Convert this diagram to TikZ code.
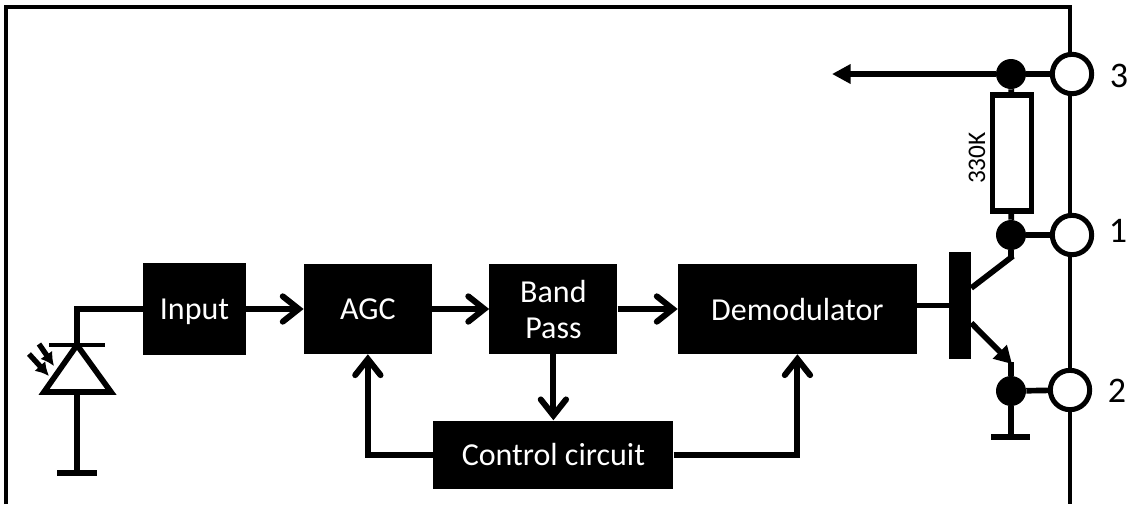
\documentclass[tikz,border=0pt]{standalone}
\usepackage{fontspec}
\setmainfont{Carlito}
\usetikzlibrary{arrows.meta,positioning,calc}
\tikzset{
  blockbox/.style={fill=black, text=white, inner sep=0pt, align=center, font=\fontsize{24}{27}\selectfont},
  flow/.style={-{Straight Barb[length=12pt,width=19pt,line cap=round]}, line width=4.5pt},
  wire/.style={line width=3pt},
  thickwire/.style={line width=4.25pt},
  pinlabel/.style={font=\fontsize{27}{30}\selectfont},
  terminal/.style={circle, draw, line width=3.75pt, fill=white, minimum size=29.5pt, inner sep=0pt},
  joint/.style={circle, fill=black, minimum size=22.5pt, inner sep=0pt},
  groundbar/.style={line width=4.5pt},
  lighttip/.style={-{Latex[length=10pt,width=11pt]}, line width=4pt}
}
\begin{document}
\begin{tikzpicture}[x=0.75pt, y=-0.75pt]
  \useasboundingbox (0,0) rectangle (1130,504);

  % outer frame, open at the bottom
  \coordinate (framebl) at (6,504);
  \coordinate (frametl) at (6,7);
  \coordinate (frametr) at (1070,7);
  \coordinate (framebr) at (1070,504);
  \draw[wire, line join=miter] (framebl) -- (frametl) -- (frametr) -- (framebr);

  % signal chain
  \node[blockbox, text depth=0pt, minimum width=77.25pt, minimum height=69pt] (input) at (194.5,309) {Input};
  \node[blockbox, minimum width=96pt, minimum height=67.5pt, right=43pt of input] (agc) {AGC};
  \node[blockbox, minimum width=96pt, minimum height=67.5pt, right=42.75pt of agc] (bandpass) {Band\\Pass};
  \node[blockbox, minimum width=179.25pt, minimum height=67.5pt, right=45pt of bandpass] (demod) {Demodulator};
  \node[blockbox, minimum width=180pt, minimum height=51pt, below=49.5pt of bandpass] (control) {Control circuit};

  \draw[flow] (input) -- (agc);
  \draw[flow] (agc) -- (bandpass);
  \draw[flow] (bandpass) -- (demod);
  \draw[flow] (bandpass) -- (control);
  \draw[flow] (control.west) -| (agc.south);
  \draw[flow] (control.east) -| (demod.south);

  % photodiode
  \coordinate (diodetop) at (77,345);
  \coordinate (diodeleft) at (44,392);
  \coordinate (dioderight) at (111,392);
  \coordinate (diodebase) at (77,392);
  \coordinate (diodegnd) at (77,473);
  \coordinate (cathodel) at (49,345);
  \coordinate (cathoder) at (105,345);
  \coordinate (diodegndl) at (57,473);
  \coordinate (diodegndr) at (97,473);
  \draw[thickwire] (input.west) -| (diodetop);
  \draw[wire] (cathodel) -- (cathoder);
  \draw[thickwire, line join=miter] (diodeleft) -- (diodetop) -- (dioderight) -- cycle;
  \draw[thickwire] (diodebase) -- (diodegnd);
  \draw[groundbar] (diodegndl) -- (diodegndr);
  \coordinate (lighta) at (29,354);
  \coordinate (lightaend) at (49,376);
  \coordinate (lightb) at (39,344);
  \coordinate (lightbend) at (54,366);
  \draw[lighttip] (lighta) -- (lightaend);
  \draw[lighttip] (lightb) -- (lightbend);

  % output terminals
  \node[terminal] (pinthree) at (1072,74) {};
  \node[terminal] (pinone) at (1072,235) {};
  \node[terminal] (pintwo) at (1070,390) {};
  \node[pinlabel, anchor=center] (labelthree) at (1119,76) {3};
  \node[pinlabel, anchor=center] (labelone) at (1118,231) {1};
  \node[pinlabel, anchor=center] (labeltwo) at (1117,391) {2};

  \node[joint] (jointthree) at (1011,74) {};
  \node[joint] (jointone) at (1011,235) {};
  \node[joint] (jointtwo) at (1011,391) {};
  \draw[thickwire] (jointthree) -- (pinthree);
  \draw[thickwire] (jointone) -- (pinone);
  \draw[thickwire] (jointtwo) -- (pintwo);

  % pull-up resistor
  \node[draw, line width=4pt, fill=white, inner sep=0pt, minimum width=29pt, minimum height=87pt] (resistor) at (1012,153) {};
  \node[rotate=90, font=\fontsize{19}{21}\selectfont] (reslabel) at (977,158) {330K};
  \draw[thickwire] (jointthree) -- (resistor);
  \draw[thickwire] (resistor) -- (jointone);

  % output line
  \coordinate (outend) at (832,74);
  \draw[-{Triangle[length=14pt,width=14pt]}, line width=5pt] (jointthree) -- (outend);

  % transistor
  \node[fill=black, inner sep=0pt, minimum width=16.5pt, minimum height=80pt] (base) at (960,305.5) {};
  \draw[thickwire] (base.west -| demod.east) -- (base.west);
  \coordinate (collector) at (1013,256);
  \coordinate (emitter) at (1012,364);
  \coordinate (groundtop) at (1011,437);
  \coordinate (groundl) at (991,437);
  \coordinate (groundr) at (1030,437);
  \draw[thickwire] (base.east |- 0,288) -- (collector);
  \draw[thickwire] (jointone) -- (1011,257);
  \draw[-{Triangle[length=13pt,width=14pt]}, thickwire] (base.east |- 0,323) -- (emitter);
  \draw[thickwire] (1011,362) -- (jointtwo);
  \draw[thickwire] (jointtwo) -- (groundtop);
  \draw[groundbar] (groundl) -- (groundr);
\end{tikzpicture}
\end{document}
